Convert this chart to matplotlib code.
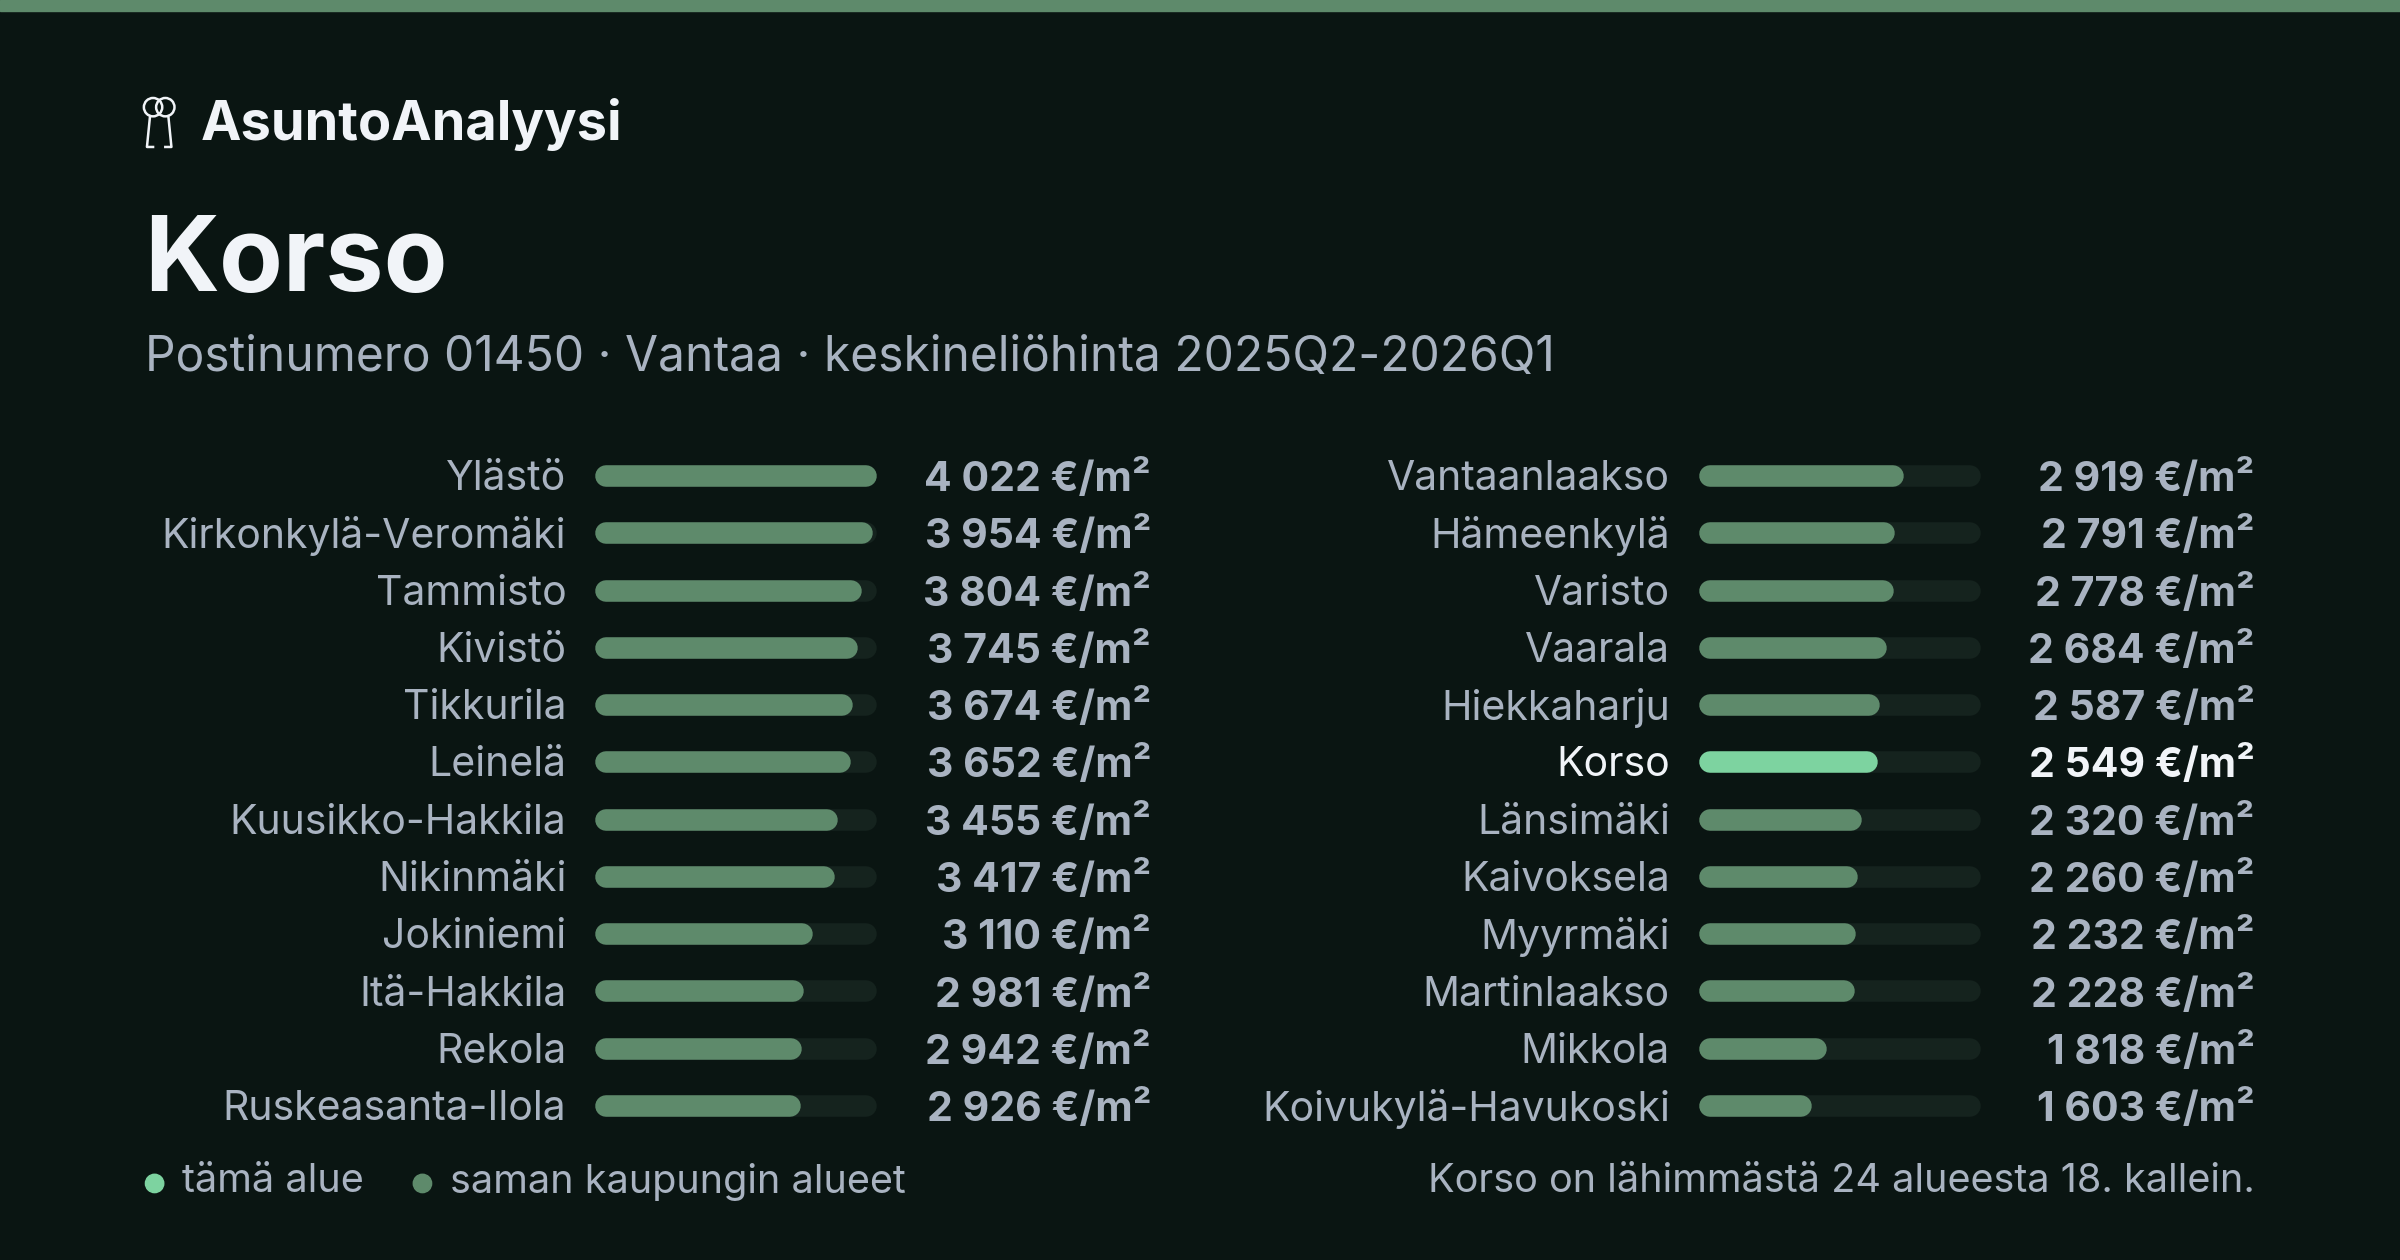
import matplotlib.pyplot as plt
from matplotlib.patches import Circle

plt.rcParams['font.family'] = ['Inter', 'DejaVu Sans']

# data
left_names = ["Ylästö", "Kirkonkylä-Veromäki", "Tammisto", "Kivistö", "Tikkurila", "Leinelä",
              "Kuusikko-Hakkila", "Nikinmäki", "Jokiniemi", "Itä-Hakkila", "Rekola", "Ruskeasanta-Ilola"]
left_values = [4022, 3954, 3804, 3745, 3674, 3652, 3455, 3417, 3110, 2981, 2942, 2926]
right_names = ["Vantaanlaakso", "Hämeenkylä", "Varisto", "Vaarala", "Hiekkaharju", "Korso",
               "Länsimäki", "Kaivoksela", "Myyrmäki", "Martinlaakso", "Mikkola", "Koivukylä-Havukoski"]
right_values = [2919, 2791, 2778, 2684, 2587, 2549, 2320, 2260, 2232, 2228, 1818, 1603]
highlight = "Korso"

BG = "#0a1512"
BAR = "#5e8a6b"
TRACK = "#15231e"
HI = "#7dd3a0"
TXT = "#a9b3c1"
WHITE = "#f1f4f8"

fig = plt.figure(figsize=(24, 12.6), dpi=100, facecolor=BG)
ax = fig.add_axes([0, 0, 1, 1])
ax.set_xlim(0, 1568)
ax.set_ylim(823, 0)
ax.axis('off')
ax.set_facecolor(BG)

# top stripe
ax.axhspan(0, 7, color="#5e8a6b")

# logo
ax.add_patch(Circle((100, 70), 6, fill=False, ec=WHITE, lw=1.8))
ax.add_patch(Circle((108, 70), 6, fill=False, ec=WHITE, lw=1.8))
ax.plot([98, 96, 100], [76, 96, 96], color=WHITE, lw=1.8)
ax.plot([110, 112, 108], [76, 96, 96], color=WHITE, lw=1.8)
ax.text(131, 81, "AsuntoAnalyysi", color=WHITE, fontsize=39, fontweight='bold', va='center')

ax.text(94, 172, "Korso", color=WHITE, fontsize=75, fontweight='bold', va='center')
ax.text(95, 234, "Postinumero 01450 · Vantaa · keskineliöhinta 2025Q2-2026Q1",
        color=TXT, fontsize=34.5, va='center')

vmax = max(left_values)


def fmt(v):
    return f"{v:,}".replace(",", " ") + " €/m²"


def column(names, values, lab_x, bar_x0, bar_w, val_x):
    r = 7
    for i, (n, v) in enumerate(zip(names, values)):
        y = 311 + i * 37.4
        hi = n == highlight
        ax.plot([bar_x0 + r, bar_x0 + bar_w - r], [y, y], color=TRACK, lw=15.5,
                solid_capstyle='round')
        ax.plot([bar_x0 + r, bar_x0 + bar_w * v / vmax - r], [y, y], color=HI if hi else BAR,
                lw=15.5, solid_capstyle='round')
        ax.text(lab_x, y + 2, n, color=WHITE if hi else TXT, fontsize=29.5, ha='right', va='center')
        ax.text(val_x, y + 2, fmt(v), color=WHITE if hi else TXT, fontsize=29.5,
                fontweight='bold', ha='right', va='center')


column(left_names, left_values, 370, 389, 184, 752)
column(right_names, right_values, 1091, 1110, 184, 1473)

# footer
ax.add_patch(Circle((101, 773), 6, color=HI))
ax.text(119, 772, "tämä alue", color=TXT, fontsize=28.5, va='center')
ax.add_patch(Circle((276, 773), 6, color=BAR))
ax.text(294, 772, "saman kaupungin alueet", color=TXT, fontsize=28.5, va='center')
ax.text(1473, 772, "Korso on lähimmästä 24 alueesta 18. kallein.", color=TXT, fontsize=28.5,
        ha='right', va='center')

fig.savefig("out.png", facecolor=BG)
